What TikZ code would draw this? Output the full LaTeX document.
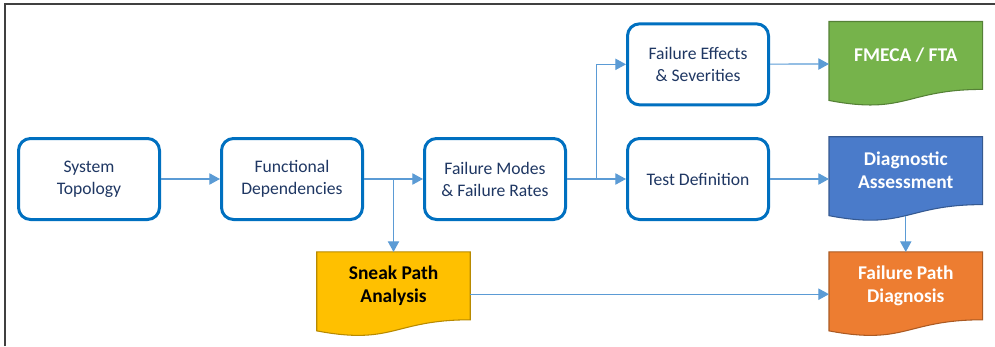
\documentclass[tikz,border=0pt]{standalone}
\usepackage{fontspec}
\setmainfont{Carlito}
\usetikzlibrary{arrows.meta,positioning,calc,backgrounds}

\definecolor{boxblue}{HTML}{0070C0}
\definecolor{txtnavy}{HTML}{1F3763}
\definecolor{linkblue}{HTML}{5B9BD5}
\definecolor{docgreen}{HTML}{76B34B}
\definecolor{docblue}{HTML}{4A7BCA}
\definecolor{docorange}{HTML}{ED7D31}
\definecolor{docgold}{HTML}{FFC000}

\begin{document}
\begin{tikzpicture}[
  x=0.75pt, y=-0.75pt,
  font=\fontsize{13.2}{16.5}\selectfont,
  node distance=23pt and 44.25pt,
  >={Triangle[length=8pt,width=8.5pt]},
  procbox/.style={draw=boxblue,line width=2.25pt,rounded corners=9pt,fill=white,
    minimum width=105.75pt,minimum height=60.75pt,align=center,text=txtnavy},
  docbox/.style={minimum width=114.75pt,minimum height=63pt,inner sep=0pt},
  doclbl/.style={font=\bfseries\fontsize{14.6}{17.3}\selectfont,align=center,text=white,yshift=6.3pt},
  conn/.style={->,draw=linkblue,line width=0.9pt},
  frame/.style={draw=black!75,line width=1.1pt}
]
\useasboundingbox (0,0) rectangle (995,346);

% ---- Frame ----
\draw[frame] (5,346) -- (5,4) -- (995,4);

% ---- Process steps ----
\node[procbox] (systop) at (89,179) {System\\Topology};
\node[procbox, right=of systop] (funcdep) {Functional\\Dependencies};
\node[procbox, right=of funcdep] (failmodes) {Failure Modes\\\& Failure Rates};
\node[procbox, right=of failmodes] (testdef) {Test Definition};
\node[procbox, above=of testdef] (faileff) {Failure Effects\\\& Severities};

% ---- Outputs ----
\node[docbox, right=of testdef, label={[doclbl]center:Diagnostic\\Assessment}] (diag) {};
\node[docbox, above=of diag, label={[doclbl]center:FMECA / FTA}] (fmeca) {};
\node[docbox, below=of diag, label={[doclbl]center:Failure Path\\Diagnosis}] (failpath) {};
\coordinate (br1) at ($(funcdep.east)!0.5!(failmodes.west)$);
\coordinate (br2) at ($(failmodes.east)!0.5!(testdef.west)$);
\node[docbox, anchor=north, label={[doclbl,text=black]center:Sneak Path\\Analysis}] (sneak) at (br1 |- failpath.north) {};

\begin{pgfonlayer}{background}
\foreach \n/\c in {fmeca/docgreen,diag/docblue,failpath/docorange,sneak/docgold} {
  \draw[fill=\c,draw=\c!72!black,line width=0.8pt]
    (\n.north west) -- (\n.north east) -- ([yshift=12.5pt]\n.south east)
    .. controls ([yshift=12.5pt]\n.south) and ([yshift=-6.8pt]\n.south) .. ([yshift=4.2pt]\n.south west) -- cycle;
}
\end{pgfonlayer}

% ---- Arrows ----
\foreach \a/\b in {systop/funcdep,funcdep/failmodes,failmodes/testdef,testdef/diag,faileff/fmeca,sneak/failpath} {
  \draw[conn] (\a) -- (\b);
}
\draw[conn] (br1) -- (sneak);
\draw[conn] (br2) |- (faileff);
\draw[conn] ([yshift=4.2pt]diag.south) -- (failpath);

\end{tikzpicture}
\end{document}
